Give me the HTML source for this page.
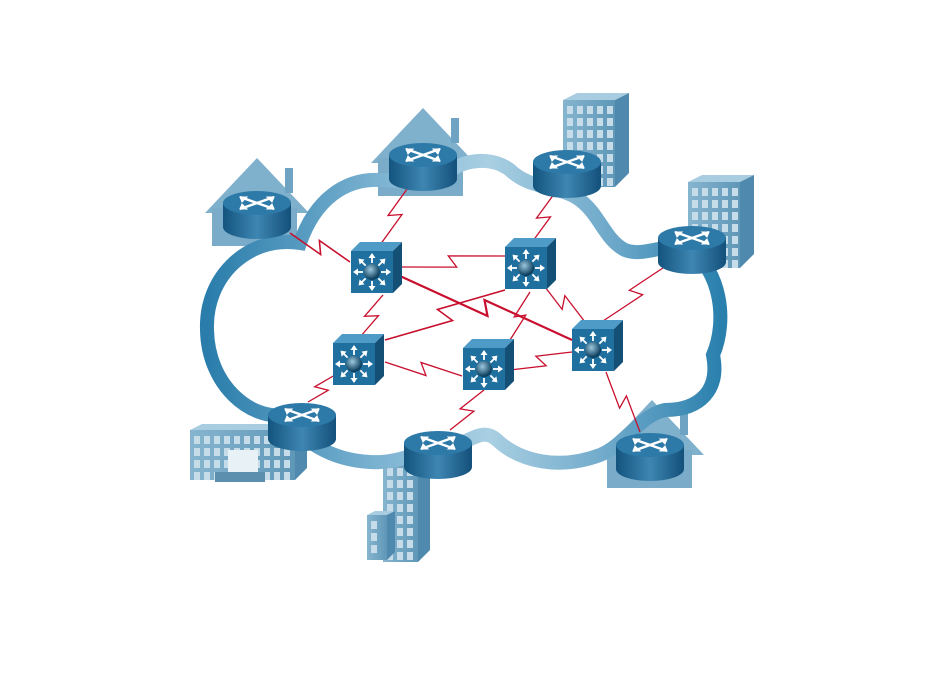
<!DOCTYPE html>
<html><head><meta charset="utf-8"><style>html,body{margin:0;padding:0;background:#fff}svg{display:block}</style></head>
<body>
<svg id="s" width="944" height="681" viewBox="0 0 944 681" xmlns="http://www.w3.org/2000/svg">
<defs>
<linearGradient id="cg" x1="0" y1="0" x2="1" y2="0">
<stop offset="0" stop-color="#2a7dab"/><stop offset="0.35" stop-color="#7fb5d3"/><stop offset="0.55" stop-color="#a9cfe2"/><stop offset="0.8" stop-color="#6aa6c8"/><stop offset="1" stop-color="#2a80ad"/></linearGradient>
<linearGradient id="rb" x1="0" y1="0" x2="1" y2="0"><stop offset="0" stop-color="#13547e"/><stop offset="0.5" stop-color="#3e86b3"/><stop offset="1" stop-color="#13507a"/></linearGradient>
<radialGradient id="ball" cx="0.4" cy="0.35" r="0.6"><stop offset="0" stop-color="#9cc8de"/><stop offset="1" stop-color="#0d3f5e"/></radialGradient>
<linearGradient id="bd" x1="0" y1="0" x2="1" y2="0"><stop offset="0" stop-color="#86b5cf"/><stop offset="1" stop-color="#5f97b8"/></linearGradient>
</defs>
<g id="bg"></g>
<path d="M300,243 C250,235 205,275 207,330 C208,385 250,420 285,415 C300,440 330,460 370,462 C400,464 420,450 440,448 C470,446 480,425 497,440 C520,462 560,470 600,455 C625,445 640,415 665,410 C700,410 720,390 713,355 C728,320 720,270 690,250 C670,240 645,258 625,250 C605,240 600,215 580,200 C560,185 530,190 510,170 C490,155 460,160 445,175 C425,190 405,180 380,180 C345,178 315,200 300,243 Z" fill="none" stroke="url(#cg)" stroke-width="14"/>
<g id="links" stroke="#c8102e" fill="none" stroke-width="1.3" stroke-linejoin="miter"></g>
<g id="nodes"></g>
</svg>
<script>
const NS="http://www.w3.org/2000/svg";
function el(p,t,a){const e=document.createElementNS(NS,t);for(const k in a)e.setAttribute(k,a[k]);(typeof p==="string"?document.getElementById(p):p).appendChild(e);return e;}
function bolt(x1,y1,x2,y2,w,z){z=z||6;const dx=x2-x1,dy=y2-y1,L=Math.hypot(dx,dy),ux=dx/L,uy=dy/L,nx=-uy,ny=ux;
const mx=(x1+x2)/2,my=(y1+y2)/2,s=z*0.6;
const pts=[[x1,y1],[mx+ux*s+nx*z,my+uy*s+ny*z],[mx-ux*s-nx*z,my-uy*s-ny*z],[x2,y2]];
el("links","polyline",{points:pts.map(p=>p.join(",")).join(" "),"stroke-width":w||1.3});}
function bld(x,y,w,h,d){el("bg","polygon",{points:`${x},${y} ${x+d},${y-d/2} ${x+w+d},${y-d/2} ${x+w},${y}`,fill:"#a8cde0"});
el("bg","polygon",{points:`${x+w},${y} ${x+w+d},${y-d/2} ${x+w+d},${y+h-d} ${x+w},${y+h}`,fill:"#4f89ad"});
el("bg","rect",{x:x,y:y,width:w,height:h,fill:"url(#bd)"});
for(let yy=y+6;yy<y+h-6;yy+=12)for(let xx=x+4;xx<x+w-6;xx+=10)el("bg","rect",{x:xx,y:yy,width:6,height:8,fill:"#c6dde9"});}
function house(cx,top){el("bg","polygon",{points:`${cx-52},${top+55} ${cx},${top} ${cx+52},${top+55}`,fill:"#7fb0cc"});
el("bg","rect",{x:cx+28,y:top+10,width:8,height:25,fill:"#6ea3c3"});
el("bg","rect",{x:cx-45,y:top+50,width:85,height:38,fill:"#7aabc8"});}
house(257,158);house(423,108);house(652,400);
bld(563,100,52,87,14);bld(688,182,52,86,14);bld(383,462,35,100,12);bld(367,515,20,45,8);bld(190,430,105,50,12);
el("bg","rect",{x:228,y:450,width:30,height:22,fill:"#e8f1f6"});el("bg","rect",{x:215,y:472,width:50,height:10,fill:"#5c8fae"});
bolt(290,233,350,262,1.6);bolt(410,185,380,245);bolt(557,190,530,245);bolt(672,262,600,323);
bolt(308,402,335,375);bolt(450,430,484,390);bolt(640,432,606,372);
bolt(400,267,505,256);bolt(400,276,572,340,2.2,7);bolt(383,295,360,337);bolt(505,290,385,340,1.6,8);
bolt(530,292,510,340,1.3,5);bolt(542,283,585,322);bolt(385,362,462,376);bolt(510,370,572,352);
function router(cx,cy){const rx=34,ry=12,h=24;
el("nodes","path",{d:`M${cx-rx},${cy} L${cx-rx},${cy+h} A${rx},${ry} 0 0 0 ${cx+rx},${cy+h} L${cx+rx},${cy} Z`,fill:"url(#rb)"});
el("nodes","ellipse",{cx:cx,cy:cy,rx:rx,ry:ry,fill:"#2d79a8"});
const g=el("nodes","g",{stroke:"#fff","stroke-width":2.4,fill:"none"});
el(g,"line",{x1:cx-17,y1:cy-6,x2:cx+17,y2:cy+6});el(g,"line",{x1:cx-17,y1:cy+6,x2:cx+17,y2:cy-6});
[[-17,-6],[17,-6],[-17,6],[17,6]].forEach(a=>{const sx=Math.sign(a[0]),sy=Math.sign(a[1]);
el(g,"polygon",{points:`${cx+a[0]},${cy+a[1]} ${cx+a[0]-sx*7},${cy+a[1]} ${cx+a[0]-sx*2},${cy+a[1]-sy*5}`,fill:"#fff","stroke-width":1});});}
[[257,203],[423,155],[567,162],[692,238],[302,415],[438,443],[650,445]].forEach(p=>router(p[0],p[1]));
function sw(x,y){const s=42,d=9;
el("nodes","polygon",{points:`${x},${y} ${x+d},${y-d} ${x+s+d},${y-d} ${x+s},${y}`,fill:"#4d9bc6"});
el("nodes","polygon",{points:`${x+s},${y} ${x+s+d},${y-d} ${x+s+d},${y+s-d} ${x+s},${y+s}`,fill:"#144f76"});
el("nodes","rect",{x:x,y:y,width:s,height:s,fill:"#20709f"});
const cx=x+s/2,cy=y+s/2;
for(let i=0;i<8;i++){const a=i*Math.PI/4,c=Math.cos(a),sn=Math.sin(a);
el("nodes","line",{x1:cx+c*9,y1:cy+sn*9,x2:cx+c*15,y2:cy+sn*15,stroke:"#fff","stroke-width":1.8});
const tx=cx+c*19,ty=cy+sn*19,bx=cx+c*14,by=cy+sn*14;
el("nodes","polygon",{points:`${tx},${ty} ${bx-sn*3.5},${by+c*3.5} ${bx+sn*3.5},${by-c*3.5}`,fill:"#fff"});}
el("nodes","circle",{cx:cx,cy:cy,r:8,fill:"url(#ball)"});}
sw(351,251);sw(505,247);sw(333,343);sw(463,348);sw(572,329);
</script>
</body></html>
